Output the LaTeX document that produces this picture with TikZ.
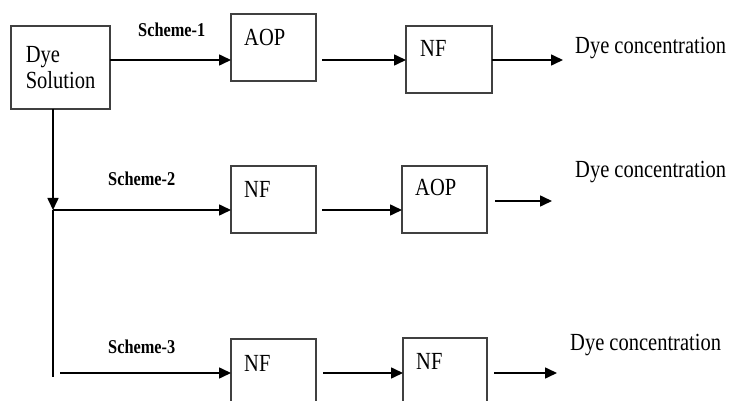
\documentclass[tikz,border=0pt]{standalone}
\usepackage{fontspec}
\usepackage{graphicx}
\setmainfont{Liberation Serif}
\usetikzlibrary{arrows.meta}
\newcommand\vs[1]{\scalebox{1}[1.2]{#1}}
\tikzset{
  box/.style={draw=black!75, line width=1.4pt, inner sep=0pt, outer sep=0pt, anchor=north west},
  lbl/.style={inner sep=0pt, anchor=west, font=\fontsize{20.5}{26}\selectfont},
  sch/.style={inner sep=0pt, anchor=west, font=\fontsize{16.3}{20}\selectfont\bfseries},
  arr/.style={line width=1.6pt, -{Triangle[length=12pt,width=11pt]}},
  ln/.style={line width=1.6pt}
}
\begin{document}
\begin{tikzpicture}[x=1pt,y=-1pt]
\useasboundingbox (0,0) rectangle (729,401);
\clip (0,0) rectangle (729,401);
% boxes
\node[box, minimum width=99, minimum height=83, align=left, font=\fontsize{20.5}{26}\selectfont] (ds) at (11,26) {\vs{Dye}\\\vs{Solution}};
\node[box, minimum width=85, minimum height=67] (aop1) at (231,14) {};
\node[box, minimum width=86, minimum height=67] (nf1) at (406,26) {};
\node[box, minimum width=85, minimum height=67] (nf2) at (231,166) {};
\node[box, minimum width=85, minimum height=67] (aop2) at (402,166) {};
\node[box, minimum width=85, minimum height=90] (nf3) at (231,339) {};
\node[box, minimum width=84, minimum height=90] (nf3b) at (403,338) {};
% box labels
\node[lbl] (taop1) at (244,37) {\vs{AOP}};
\node[lbl] (tnf1) at (420,48) {\vs{NF}};
\node[lbl] (tnf2) at (244,189) {\vs{NF}};
\node[lbl] (taop2) at (415,187) {\vs{AOP}};
\node[lbl] (tnf3) at (244,363) {\vs{NF}};
\node[lbl] (tnf3b) at (416,361) {\vs{NF}};
% outputs
\node[lbl] (out1) at (575,48) {\vs{Dye concentration}};
\node[lbl] (out2) at (575,172) {\vs{Dye concentration}};
\node[lbl] (out3) at (570,345) {\vs{Dye concentration}};
% scheme labels
\node[sch] (s1) at (138,30) {\vs{Scheme-1}};
\node[sch] (s2) at (108,179) {\vs{Scheme-2}};
\node[sch] (s3) at (108,347) {\vs{Scheme-3}};
% coordinates
\coordinate (v0) at (53,109);
\coordinate (v1) at (53,210);
\coordinate (v3) at (53,377);
\coordinate (h3) at (60,373);
\coordinate (e1) at (563,60);
\coordinate (e2a) at (495,201);
\coordinate (e2) at (552,201);
\coordinate (e3) at (557,373);
% row 1
\draw[arr] (ds.east |- e1) -- (aop1.west |- e1);
\draw[arr] ([xshift=6pt]aop1.east |- e1) -- (nf1.west |- e1);
\draw[arr] (nf1.east |- e1) -- (e1);
% trunk
\draw[arr] (v0) -- (v1);
\draw[ln] (v1) -- (v3);
% row 2
\draw[arr] (v1) -- (nf2.west |- v1);
\draw[arr] ([xshift=6pt]nf2.east |- v1) -- (aop2.west |- v1);
\draw[arr] (e2a) -- (e2);
% row 3
\draw[arr] (h3) -- (nf3.west |- h3);
\draw[arr] ([xshift=7pt]nf3.east |- h3) -- (nf3b.west |- h3);
\draw[arr] ([xshift=7pt]nf3b.east |- h3) -- (e3);
\end{tikzpicture}
\end{document}
